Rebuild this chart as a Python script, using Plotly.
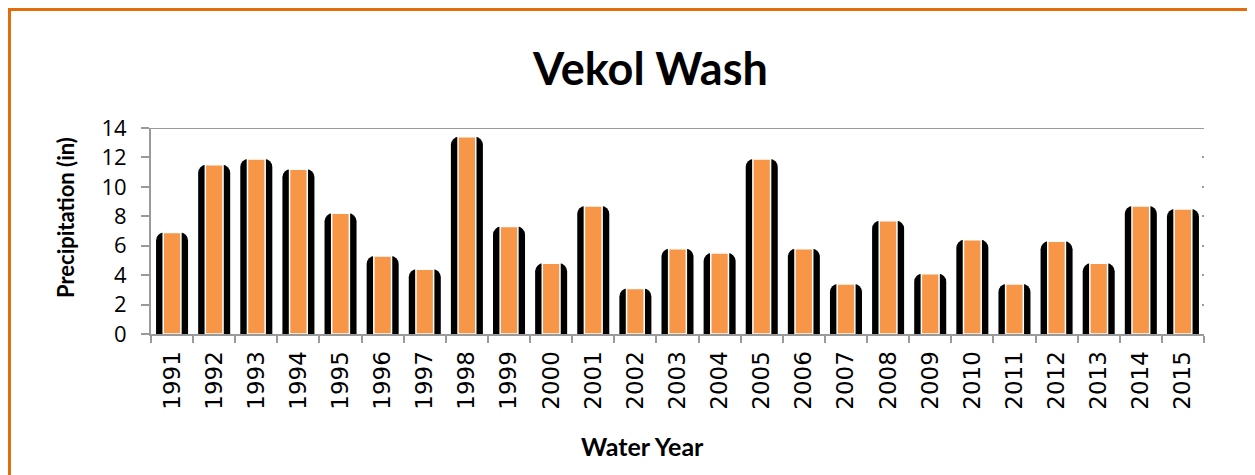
import plotly.graph_objects as go

years = [str(y) for y in range(1991, 2016)]
precip = [6.9, 11.5, 11.9, 11.2, 8.2, 5.3, 4.4, 13.4, 7.3, 4.8, 8.7, 3.1, 5.8,
          5.5, 11.9, 5.8, 3.4, 7.7, 4.1, 6.4, 3.4, 6.3, 4.8, 8.7, 8.5]
y_ticks = [0, 2, 4, 6, 8, 10, 12, 14]

OFF = 8  # page body margin
W, H = 1255 - OFF, 475 - OFF
L, R, T, B = 151 - OFF, 1204 - OFF, 128 - OFF, 334 - OFF
pw, ph = R - L, B - T

def px(x):
    return (x - OFF - L) / pw

def py(y):
    return (B - (y - OFF)) / ph

FONT = "Lato, 'Open Sans', sans-serif"
GREY = "#9a9a9a"
BW, OW = 0.76, 0.42

fig = go.Figure()
fig.add_trace(go.Bar(
    x=years, y=precip, width=BW, offset=-BW / 2,
    marker=dict(color="black", line=dict(width=0), cornerradius=8),
    hoverinfo="skip", showlegend=False,
))
fig.add_trace(go.Bar(
    x=years, y=precip, width=OW, offset=-OW / 2,
    marker=dict(color="#F79646", line=dict(color="white", width=1.5)),
    showlegend=False,
))
fig.add_trace(go.Scatter(x=years, y=precip, yaxis="y2", mode="none",
                         hoverinfo="skip", showlegend=False))

fig.update_layout(
    width=W, height=H,
    margin=dict(l=L, r=W - R, t=T, b=H - B, autoexpand=False),
    barmode="overlay",
    plot_bgcolor="white", paper_bgcolor="white",
    font=dict(family=FONT, color="black"),
    xaxis=dict(
        type="category", tickson="boundaries", ticks="outside", ticklen=7,
        tickcolor=GREY, tickwidth=1.5, showline=True, linecolor=GREY, linewidth=2,
        showgrid=False, tickangle=-90,
        tickfont=dict(size=23, family="'DejaVu Sans', sans-serif"),
        ticklabelstandoff=6,
    ),
    yaxis=dict(
        range=[0, 14], tickvals=y_ticks, ticks="outside", ticklen=8,
        tickcolor=GREY, tickwidth=1.5, showline=True, linecolor=GREY, linewidth=2,
        showgrid=False, zeroline=False,
        tickfont=dict(size=22, family="'Open Sans', sans-serif"),
        ticklabelstandoff=10,
    ),
    yaxis2=dict(
        range=[0, 14], tickvals=y_ticks, overlaying="y", side="right",
        ticks="inside", ticklen=2, tickcolor=GREY, tickwidth=2,
        showticklabels=False, showline=False, showgrid=False, zeroline=False,
    ),
    shapes=[
        dict(type="line", xref="paper", yref="y", x0=0, x1=1, y0=14, y1=14,
             line=dict(color=GREY, width=2)),
        dict(type="rect", xref="paper", yref="paper",
             x0=px(9.5), x1=px(1262), y0=py(9.5), y1=py(485),
             line=dict(color="#E46C0A", width=3), fillcolor="rgba(0,0,0,0)",
             layer="above"),
    ],
    annotations=[
        dict(text="<b>Vekol Wash</b>", xref="paper", yref="paper",
             x=px(650), y=py(68), xanchor="center", yanchor="middle",
             showarrow=False, font=dict(size=45, family=FONT)),
        dict(text="<b>Precipitation (in)</b>", xref="paper", yref="paper",
             x=px(65), y=py(218), xanchor="center", yanchor="middle",
             textangle=-90, showarrow=False, font=dict(size=22, family=FONT)),
        dict(text="<b>Water Year</b>", xref="paper", yref="paper",
             x=px(642.5), y=py(446), xanchor="center", yanchor="middle",
             showarrow=False, font=dict(size=25, family=FONT)),
    ],
)

fig.write_html("out.html")
